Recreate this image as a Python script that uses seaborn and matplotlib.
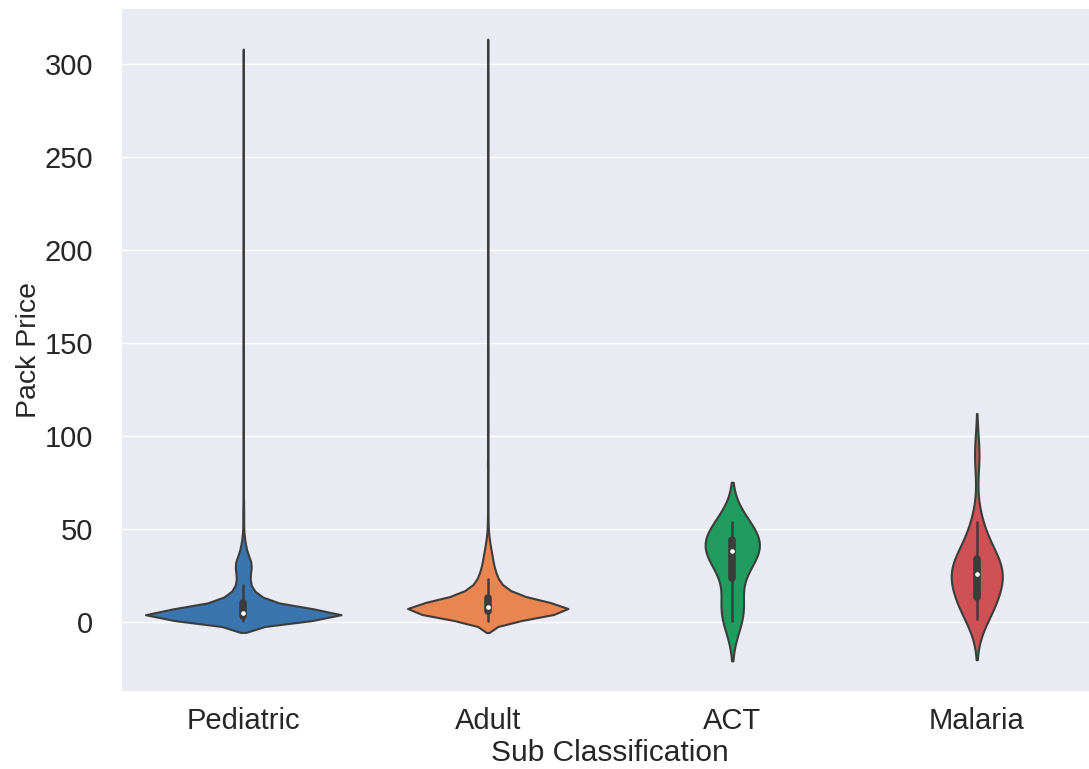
import numpy as np
import pandas as pd
import matplotlib
matplotlib.use("Agg")
import matplotlib.pyplot as plt
import seaborn as sns

# sub classes shown on the x axis
categories = ["Pediatric", "Adult", "ACT", "Malaria"]

ped_prices = [0.2, 1, 2, 3, 3.7, 4.5, 5, 6, 7, 8, 9, 10, 11, 12, 13, 14, 15, 16, 17, 18, 19,
              20, 21, 22, 23, 24, 25, 26, 27, 28, 29, 30, 31, 32, 33, 34, 35, 36, 38, 40, 42,
              44, 47, 50, 55, 58, 62, 66, 70, 302]
ped_counts = [80, 95, 105, 150, 230, 140, 80, 68, 58, 50, 43, 37, 32, 27, 22, 18, 15, 13, 11, 10, 9,
              9, 8, 8, 8, 8, 8, 8, 9, 10, 11, 11, 11, 11, 10, 9, 7, 6, 9, 7, 5,
              4, 3, 2, 2, 2, 2, 1, 1, 1]

adult_prices = [0.5, 1, 2, 3, 4, 5, 6, 7, 8, 9, 10, 11, 12, 13, 14, 15, 16, 17, 18, 19,
                20, 21, 22, 23, 24, 25, 26, 27, 28, 29, 30, 32, 34, 36, 38, 40, 42, 44, 47, 50,
                55, 60, 65, 70, 84, 86, 120, 307]
adult_counts = [30, 38, 50, 62, 68, 76, 100, 200, 95, 72, 62, 53, 46, 40, 34, 29, 25, 21, 18, 16,
                14, 13, 12, 11, 10, 10, 9, 9, 8, 8, 7, 13, 11, 9, 8, 6, 5, 4, 3, 2,
                2, 1, 1, 1, 2, 1, 1, 1]

act_prices = [0.5, 6, 11, 28, 35, 37, 39, 40, 43, 47, 51, 53.5]
act_counts = [1] * len(act_prices)

malaria_prices = [1.6, 5, 8, 10, 12, 14, 19, 22, 24, 25, 26, 28, 30, 31, 33, 35, 40, 46, 53.5, 90]
malaria_counts = [1] * len(malaria_prices)

colors = ["#3a75ae", "#e98550", "#1f9c5e", "#cd5155"]

groups = [(ped_prices, ped_counts), (adult_prices, adult_counts),
          (act_prices, act_counts), (malaria_prices, malaria_counts)]
rows = []
for name, (vals, cnts) in zip(categories, groups):
    for v, c in zip(vals, cnts):
        rows += [(name, v)] * c
df = pd.DataFrame(rows, columns=["Sub Classification", "Pack Price"])

sns.set_theme(style="darkgrid")
plt.rcParams["font.family"] = ["Liberation Sans", "DejaVu Sans"]

fig = plt.figure(figsize=(10.89, 7.69), dpi=100)
ax = fig.add_axes([121 / 1089, 77 / 769, 978 / 1089, 684 / 769])

sns.violinplot(data=df, x="Sub Classification", y="Pack Price", order=categories,
               hue="Sub Classification", hue_order=categories, palette=colors,
               saturation=1, linewidth=1.5, linecolor="#3c3c3c", legend=False,
               common_norm=True, ax=ax,
               inner_kws=dict(box_width=5.5, whis_width=1.8, marker="o",
                              markersize=2.5, markeredgewidth=0.8))

ax.set_xlabel("Sub Classification", fontsize=21.5, labelpad=3)
ax.set_ylabel("Pack Price", fontsize=20.5, labelpad=2)
ax.tick_params(axis="x", labelsize=21, pad=5)
ax.tick_params(axis="y", labelsize=21, pad=14)

fig.savefig("out.png", dpi=100)
